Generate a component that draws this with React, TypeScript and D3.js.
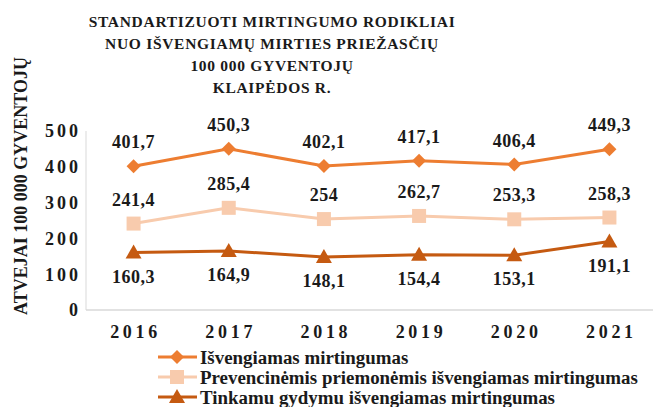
import React from "react";
import * as d3 from "d3";

const years = ["2016", "2017", "2018", "2019", "2020", "2021"];
const avoidable = [401.7, 450.3, 402.1, 417.1, 406.4, 449.3];
const preventable = [241.4, 285.4, 254, 262.7, 253.3, 258.3];
const treatable = [160.3, 164.9, 148.1, 154.4, 153.1, 191.1];
const seriesNames = [
  "Išvengiamas mirtingumas",
  "Prevencinėmis priemonėmis išvengiamas mirtingumas",
  "Tinkamu gydymu išvengiamas mirtingumas",
];
const yTicks = [0, 100, 200, 300, 400, 500];
const titleLines = [
  "STANDARTIZUOTI MIRTINGUMO RODIKLIAI",
  "NUO IŠVENGIAMŲ MIRTIES PRIEŽASČIŲ",
  "100 000 GYVENTOJŲ",
  "KLAIPĖDOS R.",
];
const yTitle = "ATVEJAI 100 000 GYVENTOJŲ";

const colors = ["#ED7D31", "#F8CBAD", "#C55A11"];
const font = "'Liberation Serif', 'Times New Roman', serif";

export default function App() {
  const W = 653, H = 407;
  const x = d3.scaleBand().domain(years).range([86, 657]);
  const y = d3.scaleLinear().domain([0, 500]).range([310, 131]);
  const cx = (d: string) => (x(d) as number) + x.bandwidth() / 2;
  const line = d3.line<number>().x((_, i) => cx(years[i])).y((v) => y(v));
  const data = [avoidable, preventable, treatable];
  const fmt = (v: number) => String(v).replace(".", ",");

  const marker = (k: number, px: number, py: number, key: string) => {
    if (k === 0) {
      const s = 7;
      return <path key={key} d={`M${px},${py - s}L${px + s},${py}L${px},${py + s}L${px - s},${py}Z`} fill={colors[0]} />;
    } else if (k === 1) {
      const s = 7;
      return <rect key={key} x={px - s} y={py - s} width={2 * s} height={2 * s} fill={colors[1]} />;
    } else {
      const s = 8;
      return <path key={key} d={`M${px},${py - s}L${px + s},${py + s - 2}L${px - s},${py + s - 2}Z`} fill={colors[2]} />;
    }
  };

  return (
    <svg width={W} height={H} style={{ position: "absolute", left: 0, top: 0, background: "#fff" }} fontFamily={font}>
      <rect width={W} height={H} fill="#fff" />
      {titleLines.map((t, i) => (
        <text key={i} x={272} y={27 + i * 22} textAnchor="middle" fontWeight="bold" fontSize={15.5} letterSpacing={0.7} fill="#1a1a1a">
          {t}
        </text>
      ))}
      <text transform={`translate(27,186) rotate(-90)`} textAnchor="middle" fontWeight="bold" fontSize={18} fill="#1a1a1a">
        {yTitle}
      </text>
      <line x1={86} x2={86} y1={131} y2={310} stroke="#d9d9d9" />
      <line x1={86} x2={653} y1={310} y2={310} stroke="#d9d9d9" strokeWidth={1.5} />
      {yTicks.map((t) => (
        <text key={t} x={81} y={y(t)} dy="0.35em" textAnchor="end" fontWeight="bold" fontSize={18} letterSpacing={3} fill="#1a1a1a">
          {t}
        </text>
      ))}
      {years.map((yr) => (
        <text key={yr} x={cx(yr) + 2} y={338} textAnchor="middle" fontWeight="bold" fontSize={18} letterSpacing={3.7} fill="#1a1a1a">
          {yr}
        </text>
      ))}
      {data.map((vals, k) => (
        <g key={k}>
          <path d={line(vals) as string} fill="none" stroke={colors[k]} strokeWidth={3} />
          {vals.map((v, i) => marker(k, cx(years[i]), y(v), `m${i}`))}
          {vals.map((v, i) => (
            <text
              key={`t${i}`}
              x={cx(years[i])}
              y={k === 2 ? y(v) + 30 : y(v) - 18}
              textAnchor="middle"
              fontWeight="bold"
              fontSize={18}
              letterSpacing={0.5}
              fill="#1a1a1a"
            >
              {fmt(v)}
            </text>
          ))}
        </g>
      ))}
      {seriesNames.map((n, k) => {
        const ly = 357 + k * 20;
        return (
          <g key={n}>
            <line x1={158} x2={197} y1={ly} y2={ly} stroke={colors[k]} strokeWidth={3} />
            {marker(k, 177, ly, "lm")}
            <text x={200} y={ly + 7} fontWeight="bold" fontSize={18.9} fill="#1a1a1a">
              {n}
            </text>
          </g>
        );
      })}
    </svg>
  );
}
